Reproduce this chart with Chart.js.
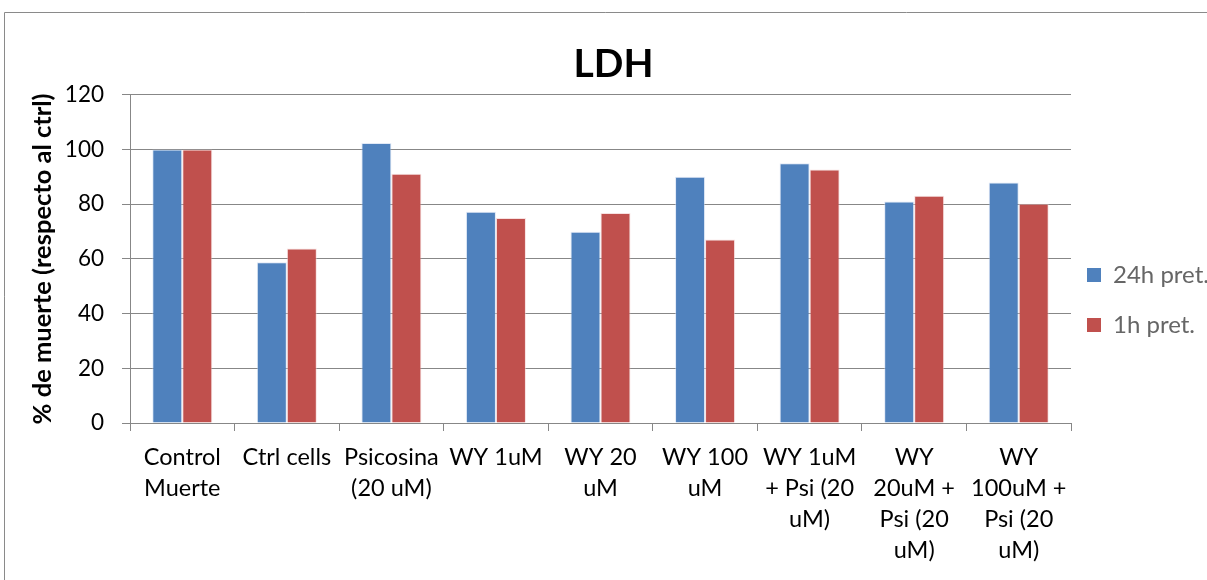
<!DOCTYPE html>
<html>
<head>
<meta charset="utf-8">
<script src="https://cdn.jsdelivr.net/npm/chart.js@4.4.1/dist/chart.umd.min.js"></script>
<style>
  html, body { margin: 0; padding: 0; background: #fff; overflow: hidden; }
  #wrap { width: 1207px; height: 580px; position: relative; }
</style>
</head>
<body>
<div id="wrap"><canvas id="c" width="1207" height="580"></canvas></div>
<script>
// Treatment groups (multi-line axis labels)
const categories = [
  ["Control", "Muerte"],
  "Ctrl cells",
  ["Psicosina", "(20 uM)"],
  "WY 1uM",
  ["WY 20", "uM"],
  ["WY 100", "uM"],
  ["WY 1uM", "+ Psi (20", "uM)"],
  ["WY", "20uM +", "Psi (20", "uM)"],
  ["WY", "100uM +", "Psi (20", "uM)"]
];

// % cell death relative to control
const pret24h = [100, 58.8, 102.4, 77.2, 69.9, 90.0, 95.0, 81.0, 87.9];
const pret1h  = [100, 63.8, 91.1, 75.0, 76.8, 67.1, 92.7, 83.1, 80.2];

const seriesNames = ["24h pret.", "1h pret."];
const yMin = 0, yMax = 120, yStep = 20;

const GRID = '#878787';
const FONT = 'Lato, "Open Sans", sans-serif';

// White background plus the thin outer frame of the chart object
const framePlugin = {
  id: 'frame',
  beforeDraw(chart) {
    const ctx = chart.ctx;
    ctx.save();
    ctx.fillStyle = '#fff';
    ctx.fillRect(0, 0, chart.width, chart.height);
    ctx.strokeStyle = '#8a8a8a';
    ctx.lineWidth = 1;
    ctx.beginPath();
    ctx.moveTo(4.5, chart.height);
    ctx.lineTo(4.5, 12.5);
    ctx.lineTo(chart.width, 12.5);
    ctx.stroke();
    ctx.restore();
  }
};

new Chart(document.getElementById('c'), {
  type: 'bar',
  data: {
    labels: categories,
    datasets: [
      {
        label: seriesNames[0],
        data: pret24h,
        backgroundColor: '#4F81BD',
        borderColor: 'rgba(200,215,238,0.55)',
        borderWidth: 1,
        borderSkipped: 'bottom'
      },
      {
        label: seriesNames[1],
        data: pret1h,
        backgroundColor: '#C0504D',
        borderColor: 'rgba(240,200,200,0.55)',
        borderWidth: 1,
        borderSkipped: 'bottom'
      }
    ]
  },
  options: {
    responsive: false,
    animation: false,
    layout: { padding: { left: 20, right: 0, top: 0, bottom: 0 } },
    datasets: {
      bar: { categoryPercentage: 0.574, barPercentage: 1.0 }
    },
    plugins: {
      tooltip: { enabled: false },
      title: {
        display: true,
        text: 'LDH',
        color: '#000',
        font: { family: FONT, size: 39, weight: 'bold', lineHeight: 1.2 },
        padding: { top: 41, bottom: 7 }
      },
      legend: {
        position: 'right',
        align: 'center',
        maxWidth: 136,
        title: { display: true, text: ' ', padding: 0, font: { size: 25, lineHeight: 1.2 } },
        labels: {
          boxWidth: 14,
          boxHeight: 14,
          padding: 16,
          color: '#000',
          font: { family: FONT, size: 24, lineHeight: 34 / 24 },
          generateLabels(chart) {
            return chart.data.datasets.map((ds, i) => ({
              text: [ds.label],
              fillStyle: ds.backgroundColor,
              strokeStyle: ds.backgroundColor,
              lineWidth: 0,
              hidden: false,
              datasetIndex: i
            }));
          }
        }
      }
    },
    scales: {
      x: {
        grid: {
          offset: true,
          drawOnChartArea: false,
          drawTicks: true,
          tickLength: 8,
          color: GRID
        },
        border: { color: GRID, width: 1 },
        ticks: {
          autoSkip: false,
          maxRotation: 0,
          minRotation: 0,
          padding: 11,
          color: '#000',
          font: { family: FONT, size: 23.5, lineHeight: 31 / 23.5 }
        },
        afterFit(scale) { scale.height = 157; }
      },
      y: {
        min: yMin,
        max: yMax,
        grid: { color: GRID, tickLength: 8, lineWidth: 1 },
        border: { color: GRID, width: 1 },
        ticks: {
          stepSize: yStep,
          padding: 18,
          color: '#000',
          font: { family: FONT, size: 22.5 }
        },
        title: {
          display: true,
          text: '% de muerte (respecto al ctrl)',
          color: '#000',
          font: { family: FONT, size: 25.5, weight: 'bold', lineHeight: 1.2 },
          padding: { top: 7, bottom: 0 }
        },
        afterFit(scale) { scale.width = 110; }
      }
    }
  },
  plugins: [framePlugin]
});
</script>
</body>
</html>
